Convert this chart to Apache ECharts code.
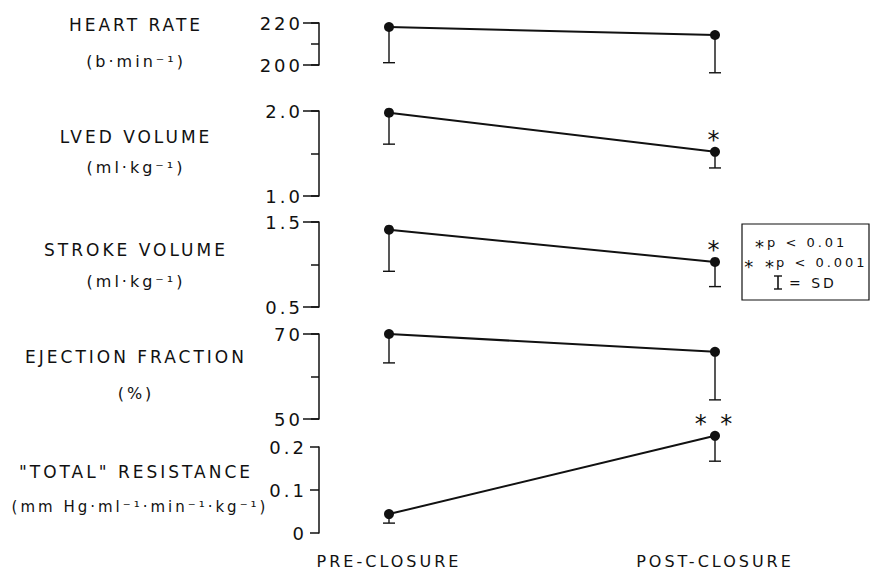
<!DOCTYPE html>
<html><head><meta charset="utf-8">
<script src="https://cdn.jsdelivr.net/npm/echarts@6/dist/echarts.min.js"></script>
<style>
html,body{margin:0;padding:0;background:#fff;}
#chart{width:871px;height:569px;}
#chart text{letter-spacing:3px;}
</style></head><body><div id="chart"></div>
<script>
// ---- data ----
const categories = ['PRE-CLOSURE', 'POST-CLOSURE'];

const hrMean = [218.1, 214.3];
const hrSD = [17, 18];
const hrSig = ['', ''];
const hrTicks = [200, 220];
const hrTickLabels = ['200', '220'];

const lvedMean = [1.98, 1.52];
const lvedSD = [0.37, 0.19];
const lvedSig = ['', '*'];
const lvedTicks = [1.0, 2.0];
const lvedTickLabels = ['1.0', '2.0'];

const svMean = [1.41, 1.03];
const svSD = [0.49, 0.29];
const svSig = ['', '*'];
const svTicks = [0.5, 1.5];
const svTickLabels = ['0.5', '1.5'];

const efMean = [70, 65.8];
const efSD = [6.8, 11.3];
const efSig = ['', ''];
const efTicks = [50, 70];
const efTickLabels = ['50', '70'];

const resMean = [0.044, 0.226];
const resSD = [0.021, 0.059];
const resSig = ['', '* *'];
const resTicks = [0, 0.1, 0.2];
const resTickLabels = ['0', '0.1', '0.2'];

const panelTitles = ['HEART RATE', 'LVED VOLUME', 'STROKE VOLUME', 'EJECTION FRACTION', '"TOTAL" RESISTANCE'];
const panelUnits = ['(b·min⁻¹)', '(ml·kg⁻¹)', '(ml·kg⁻¹)', '(%)', '(mm Hg·ml⁻¹·min⁻¹·kg⁻¹)'];

const legendMarks = ['*', '* *'];
const legendTexts = ['p < 0.01', 'p < 0.001', '= SD'];

// ---- layout (not data) ----
const FONT = 'DejaVu Sans';
const layout = [
  { top: 23, height: 42, titleY: 25, unitY: 61, bracket: true },
  { top: 111, height: 85, titleY: 137, unitY: 167, bracket: true },
  { top: 222, height: 85, titleY: 250, unitY: 281, bracket: true },
  { top: 334, height: 85, titleY: 357, unitY: 393, bracket: true },
  { top: 447, height: 86, titleY: 472, unitY: 507, bracket: false }
];
const panels = [
  { mean: hrMean, sd: hrSD, sig: hrSig, ticks: hrTicks, labels: hrTickLabels },
  { mean: lvedMean, sd: lvedSD, sig: lvedSig, ticks: lvedTicks, labels: lvedTickLabels },
  { mean: svMean, sd: svSD, sig: svSig, ticks: svTicks, labels: svTickLabels },
  { mean: efMean, sd: efSD, sig: efSig, ticks: efTicks, labels: efTickLabels },
  { mean: resMean, sd: resSD, sig: resSig, ticks: resTicks, labels: resTickLabels }
];

const GL = 389, GW = 326, AXIS_X = 319;
const grids = [], xAxes = [], yAxes = [], series = [], graphics = [];

function labelFor(ticks, labels, v) {
  let best = 0, bd = Infinity;
  ticks.forEach((t, k) => { const d = Math.abs(t - v); if (d < bd) { bd = d; best = k; } });
  return labels[best];
}

panels.forEach((p, i) => {
  const L = layout[i];
  const last = i === panels.length - 1;
  grids.push({ left: GL, width: GW, top: L.top, height: L.height, containLabel: false, outerBoundsMode: 'none' });
  xAxes.push({
    type: 'category', gridIndex: i, data: categories, boundaryGap: false, show: last,
    axisLine: { show: false }, axisTick: { show: false }, splitLine: { show: false },
    axisLabel: { show: last, margin: 20, fontSize: 16, color: '#111', fontFamily: FONT }
  });
  const tmin = p.ticks[0], tmax = p.ticks[p.ticks.length - 1];
  const interval = L.bracket ? (tmax - tmin) / 2 : (p.ticks[1] - p.ticks[0]);
  const primaryIndex = yAxes.length;
  yAxes.push({
    type: 'value', gridIndex: i, min: tmin, max: tmax, interval: interval,
    position: 'left', offset: GL - AXIS_X,
    axisLine: { show: true, lineStyle: { color: '#111', width: 1.5 } },
    axisTick: { show: true, length: L.bracket ? 16 : 9, lineStyle: { color: '#111', width: 1.5 }, customValues: p.ticks },
    axisLabel: {
      show: true, customValues: p.ticks, margin: L.bracket ? 16 : 12,
      fontSize: 18, color: '#111', fontFamily: FONT,
      formatter: v => labelFor(p.ticks, p.labels, v)
    },
    splitLine: { show: false }
  });
  if (L.bracket) {
    yAxes.push({
      type: 'value', gridIndex: i, min: tmin, max: tmax, interval: interval,
      position: 'left', offset: GL - AXIS_X,
      axisLine: { show: false },
      axisTick: { show: true, length: 8, lineStyle: { color: '#111', width: 1.5 } },
      axisLabel: { show: false }, splitLine: { show: false }
    });
  }
  series.push({
    type: 'custom', xAxisIndex: i, yAxisIndex: primaryIndex, clip: false, silent: true, z: 2,
    data: p.mean.map((m, j) => [j, m, p.sd[j]]),
    encode: { x: 0, y: 1 },
    renderItem: (params, api) => {
      const x = api.value(0), m = api.value(1), s = api.value(2);
      const a = api.coord([x, m]);
      const b = api.coord([x, m - s]);
      const st = { stroke: '#111', lineWidth: 1.4 };
      return {
        type: 'group', children: [
          { type: 'line', shape: { x1: a[0], y1: a[1], x2: b[0], y2: b[1] }, style: st },
          { type: 'line', shape: { x1: b[0] - 6, y1: b[1], x2: b[0] + 6, y2: b[1] }, style: st }
        ]
      };
    }
  });
  series.push({
    type: 'line', xAxisIndex: i, yAxisIndex: primaryIndex, data: p.mean, clip: false, silent: true, z: 3,
    symbol: 'circle', symbolSize: 10, showSymbol: true,
    itemStyle: { color: '#111' }, lineStyle: { color: '#111', width: 2 },
    label: {
      show: true, position: 'top', distance: -5, fontSize: 24, color: '#111', fontFamily: FONT,
      formatter: q => p.sig[q.dataIndex]
    },
    emphasis: { disabled: true }
  });
  graphics.push({
    type: 'text', x: 136, y: L.titleY,
    style: { text: panelTitles[i], textAlign: 'center', textVerticalAlign: 'middle', fontSize: 17, fontFamily: FONT, fill: '#111' }
  });
  graphics.push({
    type: 'text', x: last ? 140 : 136, y: L.unitY,
    style: { text: panelUnits[i], textAlign: 'center', textVerticalAlign: 'middle', fontSize: last ? 15 : 16, fontFamily: FONT, fill: '#111' }
  });
});

// legend box
const lgStyle = { textVerticalAlign: 'middle', fontSize: 13, fontFamily: FONT, fill: '#111' };
graphics.push({ type: 'rect', shape: { x: 742, y: 224, width: 127, height: 76 }, style: { fill: 'none', stroke: '#111', lineWidth: 1.2 } });
graphics.push({ type: 'text', x: 767, y: 246, style: Object.assign({}, lgStyle, { text: legendMarks[0], textAlign: 'right', fontSize: 18 }) });
graphics.push({ type: 'text', x: 767, y: 242, style: Object.assign({}, lgStyle, { text: legendTexts[0], textAlign: 'left' }) });
graphics.push({ type: 'text', x: 777, y: 266, style: Object.assign({}, lgStyle, { text: legendMarks[1], textAlign: 'right', fontSize: 18 }) });
graphics.push({ type: 'text', x: 776, y: 262, style: Object.assign({}, lgStyle, { text: legendTexts[1], textAlign: 'left' }) });
graphics.push({ type: 'line', shape: { x1: 778, y1: 276, x2: 778, y2: 289 }, style: { stroke: '#111', lineWidth: 1.6 } });
graphics.push({ type: 'line', shape: { x1: 774, y1: 276, x2: 782, y2: 276 }, style: { stroke: '#111', lineWidth: 1.4 } });
graphics.push({ type: 'line', shape: { x1: 774, y1: 289, x2: 782, y2: 289 }, style: { stroke: '#111', lineWidth: 1.4 } });
graphics.push({ type: 'text', x: 789, y: 283, style: Object.assign({}, lgStyle, { text: legendTexts[2], textAlign: 'left', fontSize: 14 }) });

const chart = echarts.init(document.getElementById('chart'), null, { renderer: 'svg', width: 871, height: 569 });
chart.setOption({
  animation: false,
  backgroundColor: '#fff',
  textStyle: { fontFamily: FONT },
  grid: grids, xAxis: xAxes, yAxis: yAxes, series: series,
  graphic: { elements: graphics }
});
</script></body></html>
